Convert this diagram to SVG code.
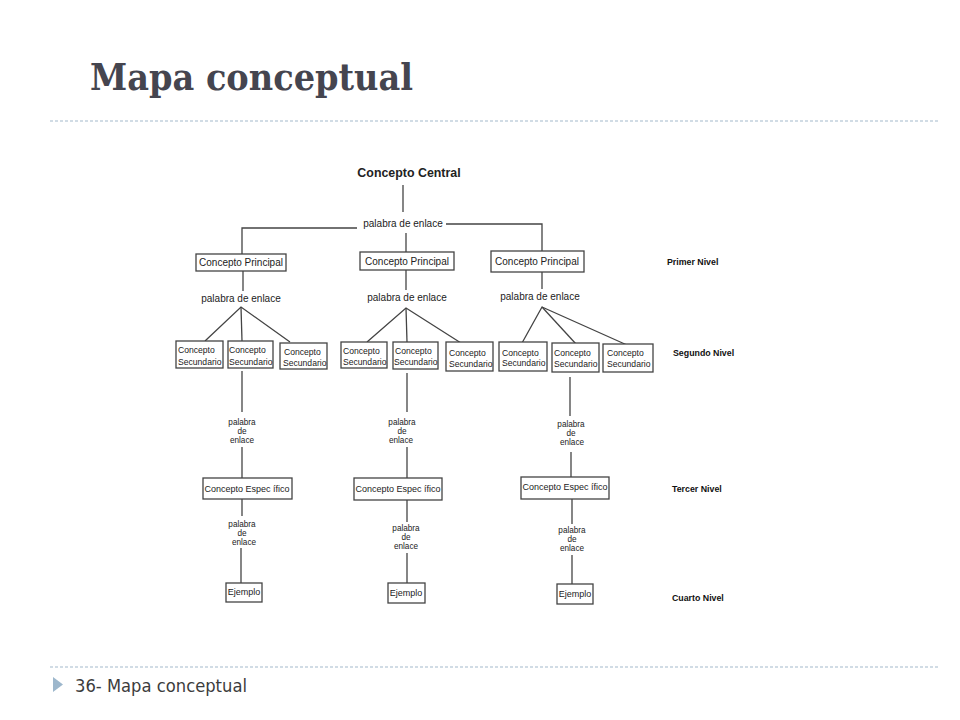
<svg xmlns="http://www.w3.org/2000/svg" width="960" height="720" viewBox="0 0 960 720">
<style>
.t{font-family:"Liberation Sans",Arial,sans-serif;fill:#222}
.b{fill:#fff;stroke:#444;stroke-width:1.3}
.c{stroke:#444;stroke-width:1.3;fill:none}
.p{font-size:10px;text-anchor:middle}
.s{font-size:8.6px}
.w{font-size:8.2px;text-anchor:middle}
.e{font-size:9px;text-anchor:middle}
.lv{font-size:8.8px;font-weight:bold;fill:#111}
.dash{stroke:#a3b9cb;stroke-width:1;stroke-dasharray:3 2}
</style>
<rect width="960" height="720" fill="#fff"/>
<text x="90" y="90" font-family="'DejaVu Serif',serif" font-weight="bold" font-size="37" fill="#45454f" textLength="323" lengthAdjust="spacingAndGlyphs">Mapa conceptual</text>
<line class="dash" x1="50" y1="121" x2="940" y2="121"/>
<line class="dash" x1="50" y1="667" x2="940" y2="667"/>
<polygon points="53,677 63,684.5 53,692" fill="#9db7cc"/>
<text x="75" y="692" font-family="'DejaVu Sans',Verdana,sans-serif" font-size="17" fill="#3c3c3c" textLength="172" lengthAdjust="spacingAndGlyphs">36- Mapa conceptual</text>

<g id="connectors">
<line class="c" x1="403" y1="185" x2="403" y2="212"/>
<polyline class="c" points="357,228 242,228 242,254"/>
<polyline class="c" points="446,224 542,224 542,251"/>
<line class="c" x1="406" y1="233" x2="406" y2="252"/>
<line class="c" x1="243" y1="271" x2="243" y2="291"/>
<line class="c" x1="406" y1="270" x2="406" y2="290"/>
<line class="c" x1="542" y1="272" x2="542" y2="289"/>
<polyline class="c" points="205,341 241,307 290,342"/>
<line class="c" x1="241" y1="307" x2="242" y2="341"/>
<polyline class="c" points="367,342 406,308 461,343"/>
<line class="c" x1="406" y1="308" x2="407" y2="342"/>
<polyline class="c" points="522,343 542,307 627,345"/>
<line class="c" x1="542" y1="307" x2="576" y2="344"/>
<line class="c" x1="242" y1="371" x2="242" y2="412"/>
<line class="c" x1="242" y1="447" x2="242" y2="478"/>
<line class="c" x1="242" y1="499" x2="242" y2="516"/>
<line class="c" x1="241" y1="548" x2="241" y2="583"/>
<line class="c" x1="407" y1="373" x2="407" y2="412"/>
<line class="c" x1="407" y1="447" x2="407" y2="478"/>
<line class="c" x1="407" y1="500" x2="407" y2="522"/>
<line class="c" x1="407" y1="553" x2="407" y2="583"/>
<line class="c" x1="570" y1="377" x2="570" y2="416"/>
<line class="c" x1="571" y1="452" x2="571" y2="477"/>
<line class="c" x1="572" y1="499" x2="572" y2="524"/>
<line class="c" x1="572" y1="555" x2="572" y2="584"/>
</g>

<g id="central"><text class="t" x="409" y="177" font-size="12.4" font-weight="bold" text-anchor="middle" fill="#111">Concepto Central</text></g>
<g id="link0"><text class="t p" x="403" y="227">palabra de enlace</text></g>

<g id="principal1"><rect class="b" x="196" y="254" width="90" height="17"/><text class="t p" x="241" y="266">Concepto Principal</text></g>
<g id="principal2"><rect class="b" x="360" y="252" width="94" height="18"/><text class="t p" x="407" y="265">Concepto Principal</text></g>
<g id="principal3"><rect class="b" x="491" y="251" width="93" height="21"/><text class="t p" x="537" y="265">Concepto Principal</text></g>

<g id="link1"><text class="t p" x="241" y="302">palabra de enlace</text></g>
<g id="link2"><text class="t p" x="407" y="301">palabra de enlace</text></g>
<g id="link3"><text class="t p" x="540" y="300">palabra de enlace</text></g>

<g id="sec1a"><rect class="b" x="176" y="341" width="47" height="27"/><text class="t s" x="178" y="353">Concepto</text><text class="t s" x="178" y="365">Secundario</text></g>
<g id="sec1b"><rect class="b" x="228" y="341" width="45" height="27"/><text class="t s" x="229" y="353">Concepto</text><text class="t s" x="229" y="365">Secundario</text></g>
<g id="sec1c"><rect class="b" x="280" y="343" width="47" height="26"/><text class="t s" x="284" y="355">Concepto</text><text class="t s" x="283" y="366">Secundario</text></g>
<g id="sec2a"><rect class="b" x="341" y="342" width="46" height="26"/><text class="t s" x="343" y="354">Concepto</text><text class="t s" x="343" y="365">Secundario</text></g>
<g id="sec2b"><rect class="b" x="393" y="342" width="45" height="27"/><text class="t s" x="395" y="354">Concepto</text><text class="t s" x="394" y="365">Secundario</text></g>
<g id="sec2c"><rect class="b" x="446" y="342" width="47" height="29"/><text class="t s" x="449" y="356">Concepto</text><text class="t s" x="449" y="367">Secundario</text></g>
<g id="sec3a"><rect class="b" x="499" y="342" width="48" height="29"/><text class="t s" x="502" y="356">Concepto</text><text class="t s" x="502" y="366">Secundario</text></g>
<g id="sec3b"><rect class="b" x="552" y="343" width="47" height="29"/><text class="t s" x="554" y="356">Concepto</text><text class="t s" x="554" y="367">Secundario</text></g>
<g id="sec3c"><rect class="b" x="603" y="344" width="50" height="28"/><text class="t s" x="607" y="356">Concepto</text><text class="t s" x="607" y="367">Secundario</text></g>

<g id="link1b"><text class="t w" x="242" y="425">palabra</text><text class="t w" x="242" y="434">de</text><text class="t w" x="242" y="443">enlace</text></g>
<g id="link2b"><text class="t w" x="402" y="425">palabra</text><text class="t w" x="402" y="434">de</text><text class="t w" x="401" y="443">enlace</text></g>
<g id="link3b"><text class="t w" x="571" y="427">palabra</text><text class="t w" x="571" y="436">de</text><text class="t w" x="572" y="445">enlace</text></g>

<g id="esp1"><rect class="b" x="203" y="478" width="89" height="21"/><text class="t e" x="247" y="492">Concepto Espec ífico</text></g>
<g id="esp2"><rect class="b" x="354" y="478" width="88" height="22"/><text class="t e" x="398" y="492">Concepto Espec ífico</text></g>
<g id="esp3"><rect class="b" x="521" y="477" width="88" height="22"/><text class="t e" x="565" y="490">Concepto Espec ífico</text></g>

<g id="link1c"><text class="t w" x="242" y="527">palabra</text><text class="t w" x="242" y="536">de</text><text class="t w" x="244" y="545">enlace</text></g>
<g id="link2c"><text class="t w" x="406" y="531">palabra</text><text class="t w" x="406" y="540">de</text><text class="t w" x="406" y="549">enlace</text></g>
<g id="link3c"><text class="t w" x="572" y="533">palabra</text><text class="t w" x="572" y="542">de</text><text class="t w" x="572" y="551">enlace</text></g>

<g id="ej1"><rect class="b" x="226" y="583" width="36" height="19"/><text class="t e" x="244" y="595" font-size="8.2">Ejemplo</text></g>
<g id="ej2"><rect class="b" x="388" y="583" width="37" height="20"/><text class="t e" x="406" y="596" font-size="8.2">Ejemplo</text></g>
<g id="ej3"><rect class="b" x="557" y="584" width="36" height="20"/><text class="t e" x="575" y="597" font-size="8.2">Ejemplo</text></g>

<g id="levels">
<text class="t lv" x="667" y="265">Primer Nivel</text>
<text class="t lv" x="673" y="356">Segundo Nivel</text>
<text class="t lv" x="672" y="492">Tercer Nivel</text>
<text class="t lv" x="672" y="601">Cuarto Nivel</text>
</g>
</svg>
